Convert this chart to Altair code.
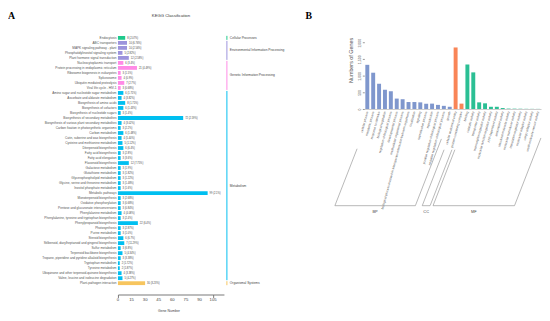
import altair as alt
import pandas as pd

# ---------------- Panel A data (KEGG) ----------------
kegg_names = [
    "Endocytosis",
    "ABC transporters",
    "MAPK signaling pathway - plant",
    "Phosphatidylinositol signaling system",
    "Plant hormone signal transduction",
    "Nucleocytoplasmic transport",
    "Protein processing in endoplasmic reticulum",
    "Ribosome biogenesis in eukaryotes",
    "Spliceosome",
    "Ubiquitin mediated proteolysis",
    "Viral life cycle - HIV-1",
    "Amino sugar and nucleotide sugar metabolism",
    "Ascorbate and aldarate metabolism",
    "Biosynthesis of amino acids",
    "Biosynthesis of cofactors",
    "Biosynthesis of nucleotide sugars",
    "Biosynthesis of secondary metabolites",
    "Biosynthesis of various plant secondary metabolites",
    "Carbon fixation in photosynthetic organisms",
    "Carbon metabolism",
    "Cutin, suberine and wax biosynthesis",
    "Cysteine and methionine metabolism",
    "Diterpenoid biosynthesis",
    "Fatty acid biosynthesis",
    "Fatty acid elongation",
    "Flavonoid biosynthesis",
    "Galactose metabolism",
    "Glutathione metabolism",
    "Glycerophospholipid metabolism",
    "Glycine, serine and threonine metabolism",
    "Inositol phosphate metabolism",
    "Metabolic pathways",
    "Monoterpenoid biosynthesis",
    "Oxidative phosphorylation",
    "Pentose and glucuronate interconversions",
    "Phenylalanine metabolism",
    "Phenylalanine, tyrosine and tryptophan biosynthesis",
    "Phenylpropanoid biosynthesis",
    "Photosynthesis",
    "Purine metabolism",
    "Steroid biosynthesis",
    "Stilbenoid, diarylheptanoid and gingerol biosynthesis",
    "Sulfur metabolism",
    "Terpenoid backbone biosynthesis",
    "Tropane, piperidine and pyridine alkaloid biosynthesis",
    "Tryptophan metabolism",
    "Tyrosine metabolism",
    "Ubiquinone and other terpenoid-quinone biosynthesis",
    "Valine, leucine and isoleucine degradation",
    "Plant-pathogen interaction",
]
kegg_counts = [8, 10, 10, 5, 12, 6, 21, 3, 4, 7, 3, 6, 4, 8, 6, 3, 72, 4, 3, 6,
               4, 5, 6, 3, 3, 12, 3, 3, 3, 3, 3, 99, 3, 3, 3, 4, 3, 22, 3, 3,
               6, 7, 3, 5, 3, 2, 2, 4, 5, 30]
kegg_pcts = ["2.07%", "6.76%", "2.56%", "2.82%", "2.58%", "3.4%", "4.49%", "1.5%",
             "0.9%", "2.7%", "0.68%", "1.71%", "3.82%", "1.71%", "1.43%", "1.4%",
             "2.59%", "3.02%", "2.2%", "1.48%", "5.40%", "1.12%", "6.4%", "2.8%",
             "3.6%", "7.75%", "1.9%", "1.82%", "1.22%", "1.48%", "1.6%", "2.1%",
             "2.68%", "0.68%", "0.84%", "4.08%", "2.4%", "6.4%", "2.87%", "1.0%",
             "6.7%", "11.29%", "6.8%", "4.34%", "3.38%", "1.72%", "1.87%", "3.38%",
             "4.27%", "3.23%"]
kegg_group_names = ["Cellular Processes", "Environmental Information Processing",
                    "Genetic Information Processing", "Metabolism", "Organismal Systems"]
kegg_group_sizes = [1, 4, 6, 38, 1]
kegg_group_colors = ["#1fc98c", "#9d93dc", "#ff8ae6", "#00bff0", "#f7c55e"]
kegg_ticks = [0, 15, 30, 45, 60, 75, 90, 105]

# ---------------- Panel B data (GO) ----------------
go_terms = [
    "cellular process", "metabolic process", "response to stimulus",
    "biological regulation", "regulation of biological process",
    "developmental process", "multicellular organismal process",
    "biological process involved in interspecies interaction between organisms",
    "localization", "signaling", "reproductive process", "reproduction",
    "positive regulation of biological process",
    "negative regulation of biological process", "growth",
    "cellular anatomical entity", "protein-containing complex",
    "binding", "catalytic activity", "transporter activity",
    "transcription regulator activity", "molecular function regulator activity",
    "ATP-dependent activity", "antioxidant activity",
    "structural molecule activity", "molecular transducer activity",
    "translation regulator activity", "molecular adaptor activity",
    "cargo adaptor activity", "small molecule sensor activity",
]
go_counts = [1333, 1095, 762, 581, 533, 314, 295, 210, 210, 200, 162, 162, 124, 95, 67,
             1857, 162,
             1343, 1105, 200, 171, 67, 67, 29, 12, 10, 8, 5, 4, 3]
go_group_names = ["BP", "CC", "MF"]
go_group_sizes = [15, 2, 13]
go_group_colors = ["#7f97cd", "#f98557", "#2bbf94"]
go_ticks = [0, 500, 1000, 1500, 2000]

FONT = "Liberation Sans"
TXT = "#555555"

# ================= Panel A =================
WA, HA = 108, 255
rows_group = [g for g, n in zip(kegg_group_names, kegg_group_sizes) for _ in range(n)]
dfA = pd.DataFrame({
    "name": kegg_names,
    "count": kegg_counts,
    "label": [f"{c} ({p})" for c, p in zip(kegg_counts, kegg_pcts)],
    "group": rows_group,
})
starts = []
s = 0
for n in kegg_group_sizes:
    starts.append(s)
    s += n
dfG = pd.DataFrame({
    "group": kegg_group_names,
    "y0": [st + 0.1 for st in starts],
    "y1": [st + n - 0.1 for st, n in zip(starts, kegg_group_sizes)],
    "ym": [st + n / 2 for st, n in zip(starts, kegg_group_sizes)],
})

colorA = alt.Color("group:N", scale=alt.Scale(domain=kegg_group_names, range=kegg_group_colors), legend=None)
yA = alt.Y("name:N", sort=kegg_names,
           scale=alt.Scale(paddingInner=0.24, paddingOuter=0.12),
           axis=alt.Axis(title=None, domain=False, ticks=False, labelFontSize=3.2,
                         labelColor=TXT, labelPadding=2, labelLimit=300))
xA = alt.X("count:Q", scale=alt.Scale(domain=[0, 117], nice=False),
           axis=alt.Axis(values=kegg_ticks, title=None, offset=9, labels=False,
                         grid=False, tickSize=3, domainColor="#777", tickColor="#777"))
barsA = alt.Chart(dfA).mark_bar().encode(y=yA, x=xA, color=colorA)
valsA = alt.Chart(dfA).mark_text(align="left", dx=2, fontSize=2.6, color="#444").encode(
    y=alt.Y("name:N", sort=kegg_names), x="count:Q", text="label:N")

tickLabA = alt.Chart(pd.DataFrame({"v": kegg_ticks})).mark_text(
    fontSize=4.3, color="#444", baseline="middle").encode(
    x=alt.X("v:Q"), y=alt.value(HA + 15), text="v:Q")
xTitleA = alt.Chart(pd.DataFrame({"t": ["Gene Number"]})).mark_text(
    fontSize=3.6, color="#444", baseline="middle").encode(
    x=alt.value(52), y=alt.value(HA + 26), text="t:N")

yG = alt.Y("y0:Q", scale=alt.Scale(domain=[0, 50], reverse=True, nice=False, zero=False), axis=None)
gRule = alt.Chart(dfG).mark_rule(strokeWidth=1).encode(
    x=alt.value(111), y=yG, y2="y1:Q", color=colorA)
gText = alt.Chart(dfG).mark_text(align="left", baseline="middle", fontSize=3.3, color="#444").encode(
    x=alt.value(114),
    y=alt.Y("ym:Q", scale=alt.Scale(domain=[0, 50], reverse=True, nice=False, zero=False), axis=None),
    text="group:N")

letterA = alt.Chart(pd.DataFrame({"t": ["A"]})).mark_text(
    align="left", baseline="top", fontSize=10, fontWeight="bold", font="Liberation Serif",
    color="#000").encode(x=alt.value(-112), y=alt.value(-24.5), text="t:N")
titleA = alt.Chart(pd.DataFrame({"t": ["KEGG Classification"]})).mark_text(
    align="center", baseline="middle", fontSize=4.3, color="#333").encode(
    x=alt.value(WA / 2), y=alt.value(-19.5), text="t:N")

panelA = alt.layer(
    alt.layer(barsA, valsA),
    alt.layer(gRule, gText),
    tickLabA, xTitleA, letterA, titleA,
).resolve_scale(y="independent").properties(width=WA, height=HA)

# ================= Panel B =================
WB, HB = 180, 75
dfB = pd.DataFrame({
    "term": go_terms,
    "count": go_counts,
    "group": [g for g, n in zip(go_group_names, go_group_sizes) for _ in range(n)],
})
colorB = alt.Color("group:N", scale=alt.Scale(domain=go_group_names, range=go_group_colors), legend=None)
xB = alt.X("term:N", sort=go_terms,
           scale=alt.Scale(paddingInner=0.33, paddingOuter=0.17),
           axis=alt.Axis(title=None, labelAngle=-75, labelFontSize=3.2, labelColor=TXT,
                         ticks=False, domainColor="#cccccc", labelPadding=2, labelLimit=300))
yB = alt.Y("count:Q", scale=alt.Scale(domain=[0, 2222], nice=False),
           axis=alt.Axis(values=go_ticks, title=None,
                         labelAngle=270, labelFontSize=3.6, labelColor=TXT, grid=False, domain=False,
                         tickSize=2, tickColor="#999", labelPadding=1, labelOverlap=False))
barsB = alt.Chart(dfB).mark_bar().encode(x=xB, y=yB, color=colorB)
yTitleB = alt.Chart(pd.DataFrame({"t": ["Numbers of Genes"]})).mark_text(
    angle=270, fontSize=5.5, color=TXT, baseline="middle", align="center").encode(
    x=alt.value(-14), y=alt.value(25.5), text="t:N")

# bracket geometry (pixels inside panel B)
BOT = 173.5
slope = 0.39
bracket_bottoms = [(-30, 52), (59, 67), (70, 153)]
bracket_tops = [(115.5, 105.5), (116.5, 116.5), (116.5, 104.5)]
segs = []
labs = []
for (xl, xr), (tl, tr), g in zip(bracket_bottoms, bracket_tops, go_group_names):
    segs.append({"x": xl, "y": BOT, "x2": xr, "y2": BOT})
    segs.append({"x": xl, "y": BOT, "x2": xl + slope * (BOT - tl), "y2": tl})
    segs.append({"x": xr, "y": BOT, "x2": xr + slope * (BOT - tr), "y2": tr})
    labs.append({"x": (xl + xr) / 2, "y": BOT + 6, "g": g})
dfS = pd.DataFrame(segs)
dfL = pd.DataFrame(labs)
brk = alt.Chart(dfS).mark_rule(strokeWidth=0.6, color="#888").encode(
    x=alt.X("x:Q", scale=None, axis=None), y=alt.Y("y:Q", scale=None, axis=None),
    x2="x2:Q", y2="y2:Q")
brkLab = alt.Chart(dfL).mark_text(fontSize=4, color="#444", baseline="middle").encode(
    x=alt.X("x:Q", scale=None, axis=None), y=alt.Y("y:Q", scale=None, axis=None), text="g:N")
letterB = alt.Chart(pd.DataFrame({"t": ["B"]})).mark_text(
    align="left", baseline="top", fontSize=10, fontWeight="bold", font="Liberation Serif",
    color="#000").encode(x=alt.value(-60), y=alt.value(-24.5), text="t:N")

panelB = alt.layer(barsB, alt.layer(brk, brkLab), yTitleB, letterB).resolve_scale(
    x="independent", y="independent").properties(width=WB, height=HB)

chart = alt.hconcat(panelA, panelB, spacing=21).resolve_scale(color="independent").properties(
    padding={"left": 0, "top": 0, "right": 0, "bottom": 0}
).configure(font=FONT).configure_view(stroke=None)

chart.save("out.html", embed_options={"renderer": "svg", "actions": False})
